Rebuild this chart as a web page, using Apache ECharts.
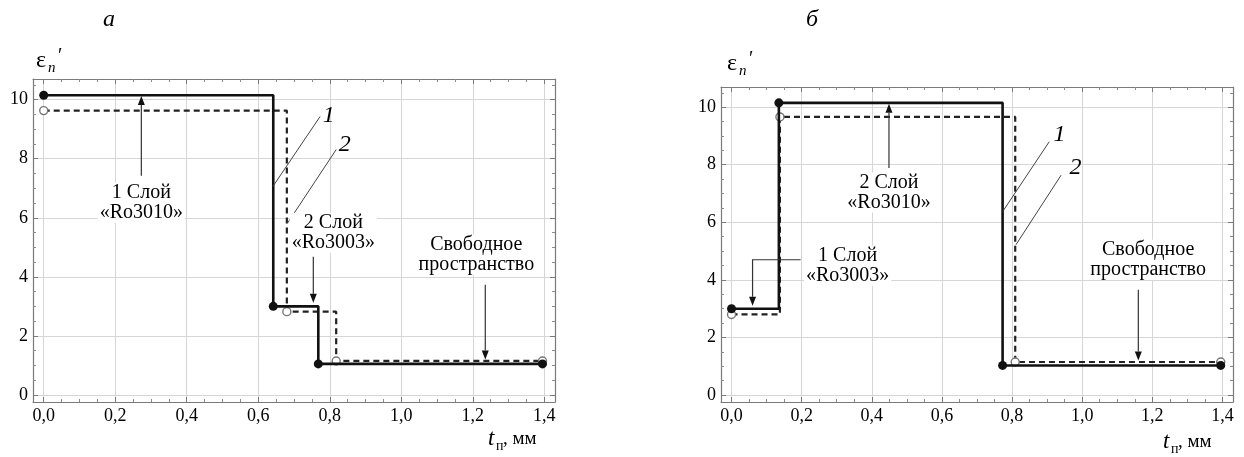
<!DOCTYPE html>
<html>
<head>
<meta charset="utf-8">
<script src="https://cdn.jsdelivr.net/npm/echarts@6/dist/echarts.min.js"></script>
<style>
html,body{margin:0;padding:0;background:#fff;}
#chart{width:1244px;height:457px;}
</style>
</head>
<body>
<div id="chart"></div>
<script>
// ---------- data ----------
const X_RANGE = [-0.03, 1.43];
const Y_RANGE = [-0.24, 10.7];
const xTickValues = [0, 0.2, 0.4, 0.6, 0.8, 1.0, 1.2, 1.4];
const xTickLabels = ['0,0', '0,2', '0,4', '0,6', '0,8', '1,0', '1,2', '1,4'];
const yTickValues = [0, 2, 4, 6, 8, 10];
const yTickLabels = ['0', '2', '4', '6', '8', '10'];

// panel "а"
const aCurve1X = [0.0, 0.642, 0.768, 1.395];
const aCurve1Y = [10.15, 3.0, 1.05, 1.05];
const aCurve2X = [0.0, 0.680, 0.818, 1.395];
const aCurve2Y = [9.63, 2.82, 1.15, 1.15];
// panel "б"
const bCurve1X = [0.0, 0.135, 0.773, 1.395];
const bCurve1Y = [3.0, 10.15, 1.03, 1.03];
const bCurve2X = [0.0, 0.138, 0.809, 1.395];
const bCurve2Y = [2.8, 9.66, 1.15, 1.15];

const panelTitles = ['а', 'б'];
const curveNames = ['1', '2'];
const aLayerText = ['1 Слой\n«Ro3010»', '2 Слой\n«Ro3003»', 'Свободное\nпространство'];
const bLayerText = ['2 Слой\n«Ro3010»', '1 Слой\n«Ro3003»', 'Свободное\nпространство'];

// ---------- layout ----------
const FONT = "'Liberation Serif','Times New Roman',serif";
const grids = [
  {left: 33, top: 79, width: 522, height: 323},
  {left: 721, top: 87, width: 512, height: 315}
];
const FRAME = '#7a7a7a';

function zip(xs, ys) { return xs.map((x, i) => [x, ys[i]]); }
function fmt(values, labels) {
  return function (v) {
    for (let i = 0; i < values.length; i++) if (Math.abs(values[i] - v) < 1e-6) return labels[i];
    return '';
  };
}
function xAxisCfg(g, pos) {
  const bottom = pos === 'bottom';
  return {
    type: 'value', gridIndex: g, position: pos, min: X_RANGE[0], max: X_RANGE[1],
    minInterval: 0.2, maxInterval: 0.2, splitNumber: 7,
    axisLine: {show: true, onZero: false, lineStyle: {color: FRAME, width: 1.2}},
    axisTick: {show: true, inside: true, length: 5, lineStyle: {color: FRAME}},
    minorTick: {show: true, splitNumber: 4, length: 3, lineStyle: {color: '#8c8c8c'}},
    splitLine: {show: bottom, lineStyle: {color: '#d6d6d6', width: 1}},
    minorSplitLine: {show: false},
    axisLabel: {show: bottom, showMinLabel: false, showMaxLabel: false, margin: 5,
      formatter: fmt(xTickValues, xTickLabels), color: '#000', fontFamily: FONT, fontSize: 18}
  };
}
function yAxisCfg(g, pos) {
  const left = pos === 'left';
  return {
    type: 'value', gridIndex: g, position: pos, min: Y_RANGE[0], max: Y_RANGE[1],
    minInterval: 2, maxInterval: 2, splitNumber: 5,
    axisLine: {show: true, onZero: false, lineStyle: {color: FRAME, width: 1.2}},
    axisTick: {show: true, inside: true, length: 5, lineStyle: {color: FRAME}},
    minorTick: {show: true, splitNumber: 4, length: 3, lineStyle: {color: '#8c8c8c'}},
    splitLine: {show: left, lineStyle: {color: '#d6d6d6', width: 1}},
    minorSplitLine: {show: false},
    axisLabel: {show: left, showMinLabel: false, showMaxLabel: false, margin: 5,
      formatter: fmt(yTickValues, yTickLabels), color: '#000', fontFamily: FONT, fontSize: 18}
  };
}
function solid(name, xi, yi, data) {
  return {type: 'line', name, xAxisIndex: xi, yAxisIndex: yi, data, step: 'end',
    symbol: 'circle', symbolSize: 9, showSymbol: true, z: 4,
    lineStyle: {color: '#111', width: 2.6}, itemStyle: {color: '#111'}, animation: false};
}
function dashed(name, xi, yi, data) {
  return {type: 'line', name, xAxisIndex: xi, yAxisIndex: yi, data, step: 'end',
    symbol: 'circle', symbolSize: 8, showSymbol: true, z: 3,
    lineStyle: {color: '#222', width: 2.2, type: [6, 4]},
    itemStyle: {color: '#fff', borderColor: '#777', borderWidth: 1.4}, animation: false};
}

const chart = echarts.init(document.getElementById('chart'), null, {renderer: 'canvas'});
chart.setOption({
  backgroundColor: '#fff',
  animation: false,
  grid: grids.map(g => Object.assign({containLabel: false}, g)),
  xAxis: [xAxisCfg(0, 'bottom'), xAxisCfg(0, 'top'), xAxisCfg(1, 'bottom'), xAxisCfg(1, 'top')],
  yAxis: [yAxisCfg(0, 'left'), yAxisCfg(0, 'right'), yAxisCfg(1, 'left'), yAxisCfg(1, 'right')],
  series: [
    dashed('a2', 0, 0, zip(aCurve2X, aCurve2Y)),
    solid('a1', 0, 0, zip(aCurve1X, aCurve1Y)),
    dashed('b2', 2, 2, zip(bCurve2X, bCurve2Y)),
    solid('b1', 2, 2, zip(bCurve1X, bCurve1Y))
  ]
});

// ---------- annotations (placed in data coordinates) ----------
const G = [];
function px(g, p) { return chart.convertToPixel({gridIndex: g}, p); }
function text(x, y, str, opt) {
  G.push({type: 'text', z: 20, style: Object.assign({
    text: str, x, y, fill: '#000', fontFamily: FONT, fontSize: 20,
    align: 'center', verticalAlign: 'middle', lineHeight: 20
  }, opt || {})});
}
function dtext(g, p, str, opt) { const q = px(g, p); text(q[0], q[1], str, opt); }
function arrow(g, pts) {
  const P = pts.map(p => px(g, p));
  const n = P.length;
  const a = P[n - 2], b = P[n - 1];
  const dx = b[0] - a[0], dy = b[1] - a[1];
  const L = Math.hypot(dx, dy), ux = dx / L, uy = dy / L;
  const hl = 9, hw = 3.5;
  const base = [b[0] - ux * hl, b[1] - uy * hl];
  const line = P.slice(0, n - 1).concat([base]);
  G.push({type: 'polyline', z: 19, shape: {points: line}, style: {stroke: '#333', lineWidth: 1.2, fill: null}});
  G.push({type: 'polygon', z: 19, shape: {points: [b, [base[0] - uy * hw, base[1] + ux * hw], [base[0] + uy * hw, base[1] - ux * hw]]},
    style: {fill: '#111'}});
}
function leader(g, p1, p2) {
  const a = px(g, p1), b = px(g, p2);
  G.push({type: 'line', z: 19, shape: {x1: a[0], y1: a[1], x2: b[0], y2: b[1]}, style: {stroke: '#444', lineWidth: 1}});
}
const labelBg = {backgroundColor: '#fff', padding: [0, 2]};

// panel titles, axis names
grids.forEach((gr, i) => {
  text(gr.left + (i === 0 ? 76 : 91), 20, panelTitles[i], {fontStyle: 'italic', fontSize: 24});
  const ex = gr.left + (i === 0 ? 3 : 6), ey = gr.top - (i === 0 ? 18 : 23);
  text(ex, ey, 'ε', {align: 'left', fontSize: 24});
  text(ex + 12, ey + 7, 'n', {align: 'left', fontSize: 15, fontStyle: 'italic'});
  text(ex + 22, ey - 4, '′', {align: 'left', fontSize: 20});
  const tx = gr.left + gr.width - (i === 0 ? 67 : 70), ty = gr.top + gr.height + (i === 0 ? 37 : 40);
  text(tx, ty, 't', {align: 'left', fontSize: 23, fontStyle: 'italic'});
  text(tx + 8, ty + 7, 'п', {align: 'left', fontSize: 14});
  text(tx + 15, ty, ', мм', {align: 'left', fontSize: 19});
});

// panel а
dtext(0, [0.273, 6.51], aLayerText[0], labelBg);
arrow(0, [[0.273, 7.42], [0.273, 10.12]]);
dtext(0, [0.81, 5.49], aLayerText[1], labelBg);
arrow(0, [[0.754, 4.68], [0.754, 3.12]]);
dtext(0, [1.21, 4.75], aLayerText[2], labelBg);
arrow(0, [[1.235, 3.73], [1.235, 1.2]]);
leader(0, [0.641, 7.06], [0.773, 9.43]);
leader(0, [0.682, 5.82], [0.818, 8.31]);
dtext(0, [0.797, 9.45], curveNames[0], {fontStyle: 'italic', fontSize: 24});
dtext(0, [0.842, 8.47], curveNames[1], {fontStyle: 'italic', fontSize: 24});

// panel б
dtext(1, [0.449, 7.04], bLayerText[0], labelBg);
arrow(1, [[0.449, 7.89], [0.449, 10.12]]);
dtext(1, [0.331, 4.49], bLayerText[1], labelBg);
arrow(1, [[0.197, 4.70], [0.06, 4.70], [0.06, 3.1]]);
dtext(1, [1.188, 4.70], bLayerText[2], labelBg);
arrow(1, [[1.16, 3.66], [1.16, 1.2]]);
leader(1, [0.773, 6.37], [0.906, 8.8]);
leader(1, [0.811, 5.22], [0.94, 7.64]);
dtext(1, [0.935, 9.05], curveNames[0], {fontStyle: 'italic', fontSize: 24});
dtext(1, [0.981, 7.9], curveNames[1], {fontStyle: 'italic', fontSize: 24});

chart.setOption({graphic: G});
</script>
</body>
</html>
